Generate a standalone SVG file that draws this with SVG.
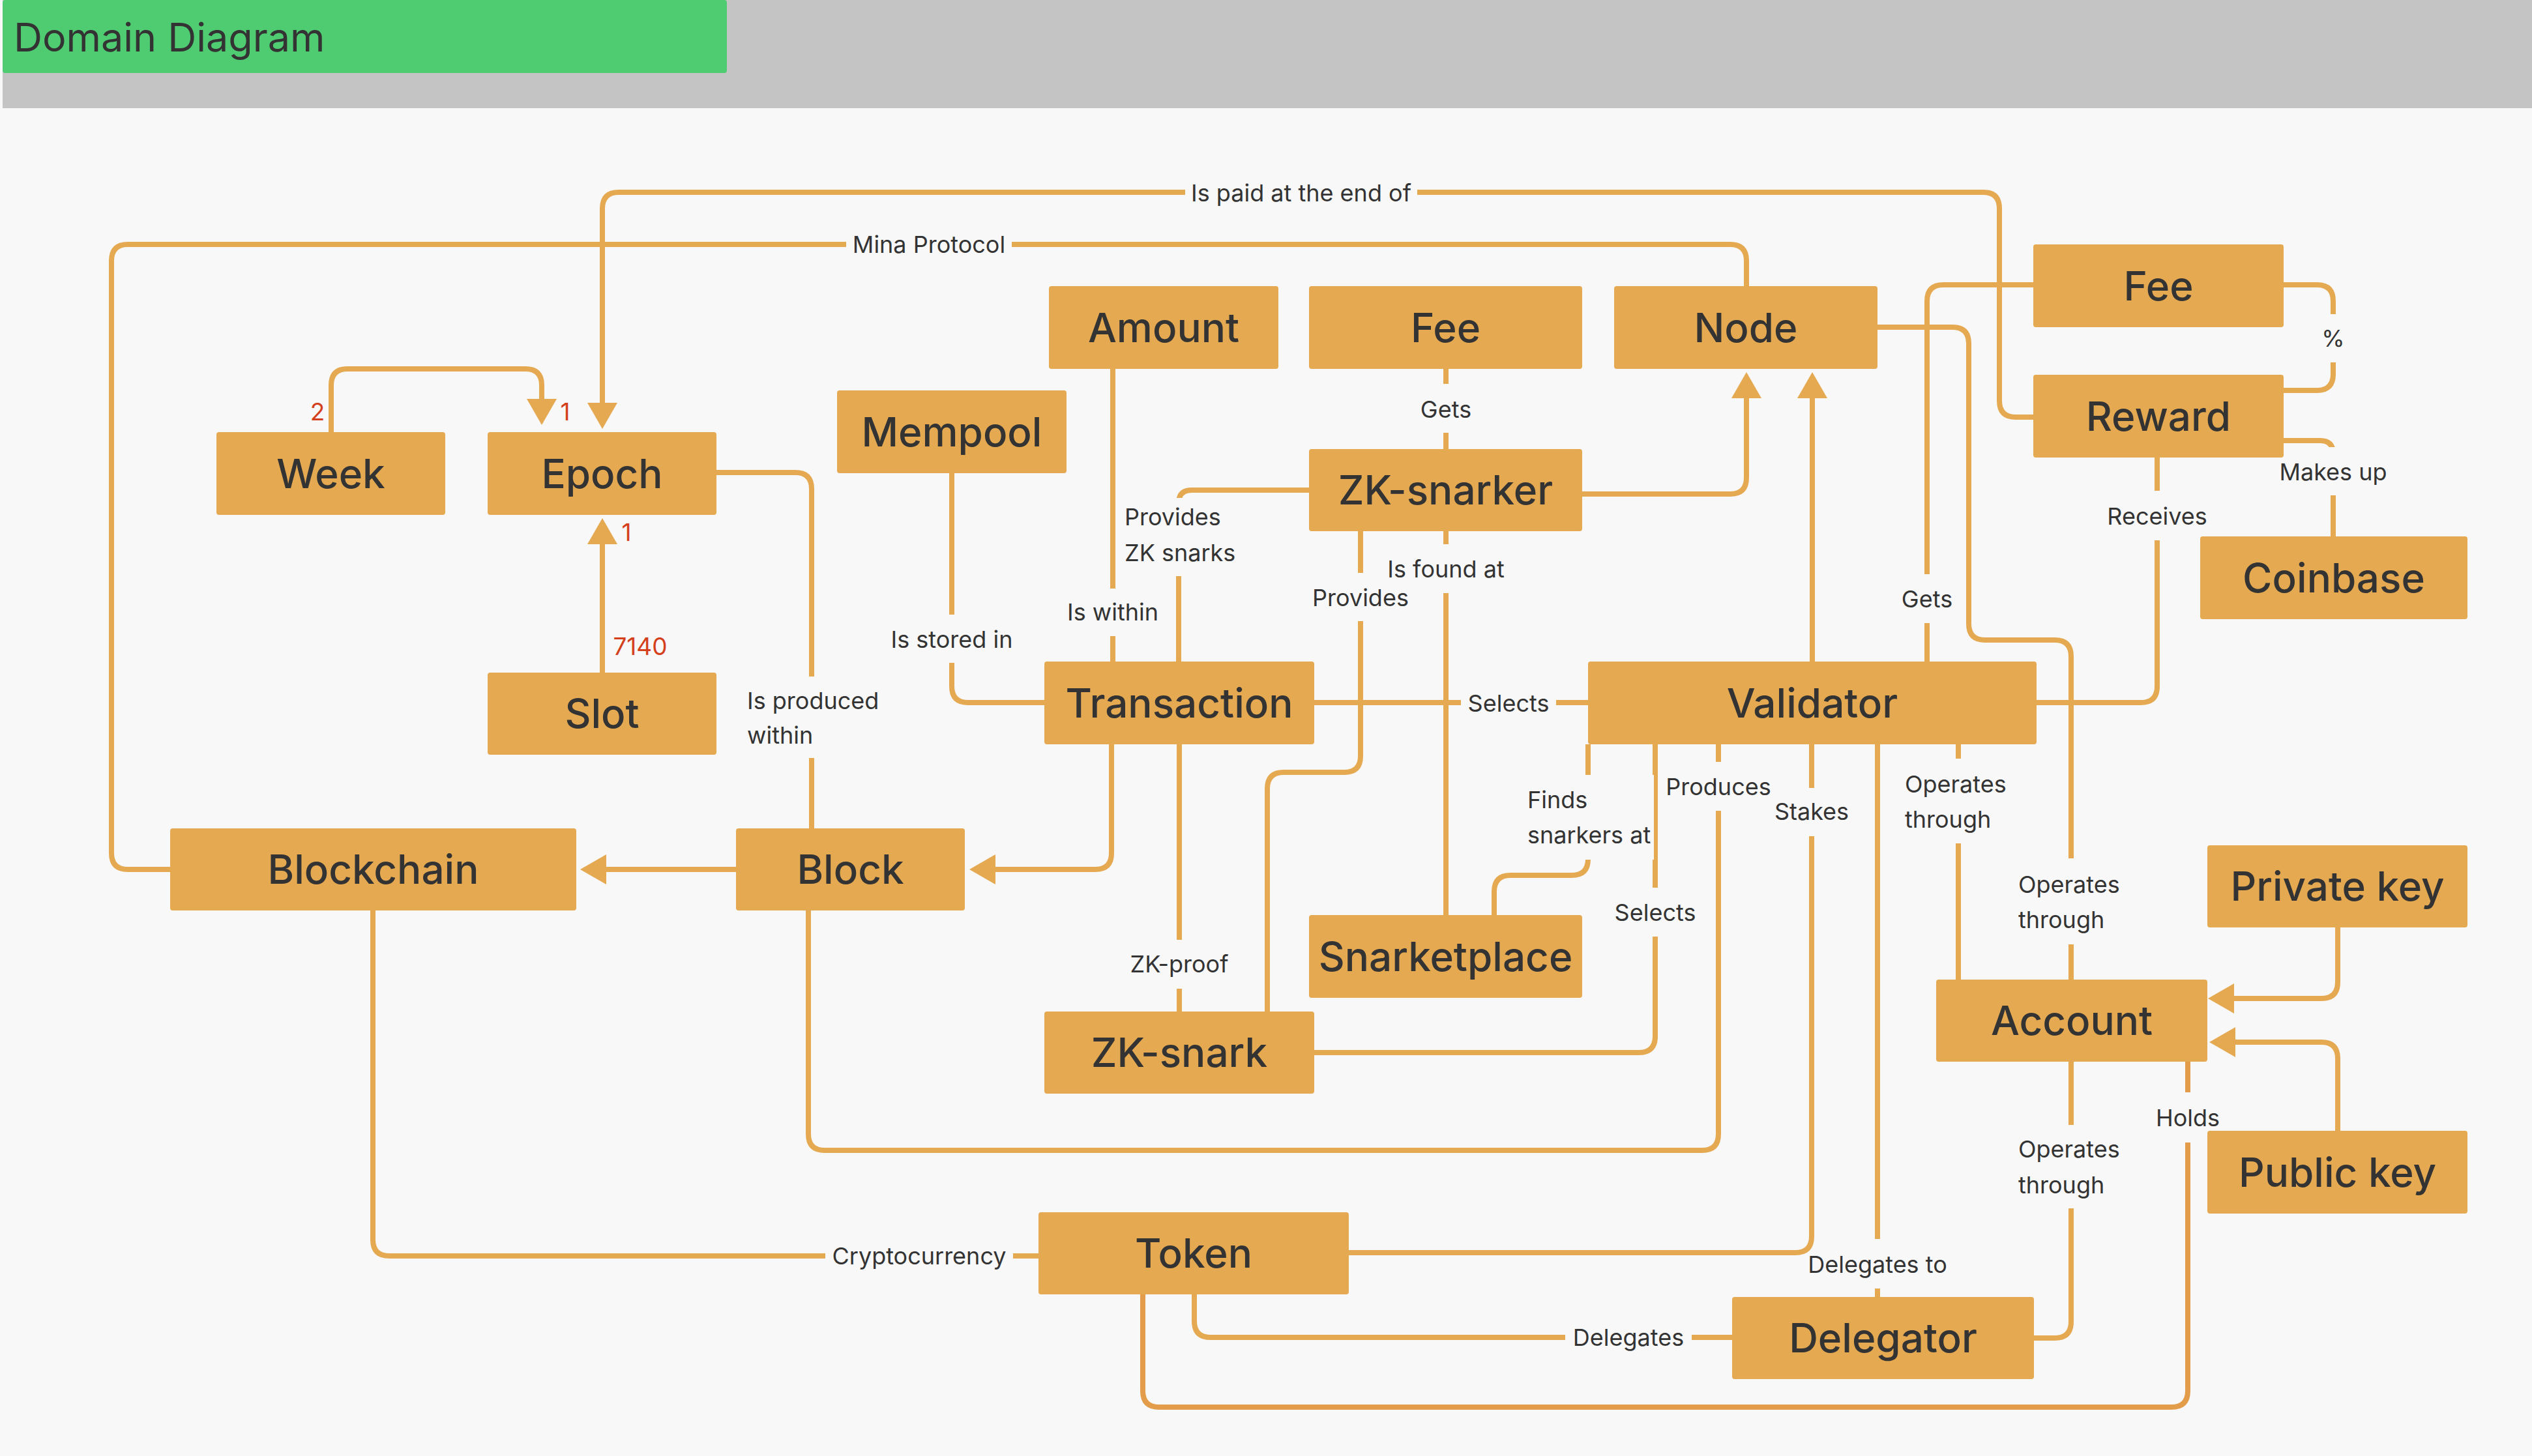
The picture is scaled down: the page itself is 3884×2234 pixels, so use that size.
<svg xmlns="http://www.w3.org/2000/svg" width="3884" height="2234" viewBox="0 0 3884 2234">
<style>
.node rect{fill:#E5A951;}
.node text{font-family:Inter,"Liberation Sans",sans-serif;font-size:62px;font-weight:500;fill:#333333;text-anchor:middle;}
.conn path{fill:none;stroke:#E5A951;stroke-width:8;}
.conn path.holds{stroke:#E39D4A;}
.lb{fill:#F8F8F8;}
.lt{font-family:Inter,"Liberation Sans",sans-serif;font-size:36px;fill:#333333;}
.c{text-anchor:middle;}
.red{font-family:Inter,"Liberation Sans",sans-serif;font-size:37px;fill:#D4401C;text-anchor:middle;}
</style>
<defs>
<marker id="arr" markerUnits="userSpaceOnUse" viewBox="0 0 40 46" markerWidth="40" markerHeight="46" refX="1" refY="23" orient="auto">
<path d="M0,0 L40,23 L0,46 Z" fill="#E5A951"/>
</marker>
</defs>
<rect x="0" y="0" width="3884" height="2234" fill="#F8F8F8"/>
<rect x="4" y="0" width="3880" height="166" fill="#C4C4C4"/>
<rect x="4" y="0" width="1111" height="112" rx="4" fill="#4FCC72"/>
<text x="21" y="79" font-family="Inter,'Liberation Sans',sans-serif" font-size="61" fill="#333333">Domain Diagram</text>

<g id="connectors" class="conn">
<path id="c-ispaid" d="M3119,640 H3092 Q3067,640 3067,615 V320 Q3067,295 3042,295 H949 Q924,295 924,320 V619" marker-end="url(#arr)"/>
<path id="c-mina" d="M2679,439 V400 Q2679,375 2654,375 H196 Q171,375 171,400 V1309 Q171,1334 196,1334 H261"/>
<path id="c-week-epoch" d="M508,663 V591 Q508,566 533,566 H806 Q831,566 831,591 V613" marker-end="url(#arr)"/>
<path id="c-slot-epoch" d="M924,1032 V834" marker-end="url(#arr)"/>
<path id="c-epoch-block" d="M1099,725 H1220 Q1245,725 1245,750 V1271"/>
<path id="c-block-blockchain" d="M1129,1334 H929" marker-end="url(#arr)"/>
<path id="c-tx-block" d="M1705,1142 V1309 Q1705,1334 1680,1334 H1526" marker-end="url(#arr)"/>
<path id="c-mempool-tx" d="M1460,726 V1053 Q1460,1078 1485,1078 H1602"/>
<path id="c-amount-tx" d="M1707,566 V1015"/>
<path id="c-snarker-tx" d="M2008,752 H1828 Q1808,752 1808,772 V1015"/>
<path id="c-fee-snarker" d="M2218,566 V689"/>
<path id="c-snarker-node" d="M2427,758 H2654 Q2679,758 2679,733 V610" marker-end="url(#arr)"/>
<path id="c-validator-node" d="M2780,1015 V610" marker-end="url(#arr)"/>
<path id="c-snarker-snarketplace" d="M2218,815 V1404"/>
<path id="c-snarker-zksnark" d="M2087,815 V1160 Q2087,1185 2062,1185 H1969 Q1944,1185 1944,1210 V1552"/>
<path id="c-tx-validator" d="M2016,1078 H2436"/>
<path id="c-tx-zksnark" d="M1809,1142 V1552"/>
<path id="c-validator-snarketplace" d="M2436,1142 V1318 Q2436,1343 2411,1343 H2317 Q2292,1343 2292,1368 V1404"/>
<path id="c-validator-zksnark" d="M2539,1142 V1590 Q2539,1615 2514,1615 H2016"/>
<path id="c-validator-block" d="M2636,1142 V1740 Q2636,1765 2611,1765 H1265 Q1240,1765 1240,1740 V1397"/>
<path id="c-validator-token" d="M2779,1142 V1897 Q2779,1922 2754,1922 H2069"/>
<path id="c-validator-delegator" d="M2880,1142 V1990"/>
<path id="c-validator-account" d="M3004,1142 V1503"/>
<path id="c-node-account" d="M2880,502 H2995 Q3020,502 3020,527 V957 Q3020,982 3045,982 H3152 Q3177,982 3177,1007 V1503"/>
<path id="c-fee-validator" d="M3119,437 H2981 Q2956,437 2956,462 V1015"/>
<path id="c-validator-reward" d="M3124,1078 H3284 Q3309,1078 3309,1053 V702"/>
<path id="c-fee-reward" d="M3503,437 H3554 Q3579,437 3579,462 V574 Q3579,599 3554,599 H3503"/>
<path id="c-reward-coinbase" d="M3503,676 H3559 Q3579,676 3579,696 V823"/>
<path id="c-private-account" d="M3586,1423 V1507 Q3586,1532 3561,1532 H3426" marker-end="url(#arr)"/>
<path id="c-public-account" d="M3586,1735 V1624 Q3586,1599 3561,1599 H3428" marker-end="url(#arr)"/>
<path id="c-account-delegator" d="M3177,1629 V2028 Q3177,2053 3152,2053 H3120"/>
<path id="c-account-token" class="holds" d="M3356,1629 V2134 Q3356,2159 3331,2159 H1778 Q1753,2159 1753,2134 V1986"/>
<path id="c-token-delegator" d="M1832,1986 V2027 Q1832,2052 1857,2052 H2657"/>
<path id="c-blockchain-token" d="M572,1397 V1902 Q572,1927 597,1927 H1593"/>
</g>

<g id="label-gaps">
<rect class="lb" x="1818" y="258" width="356" height="75"/>
<rect class="lb" x="1298" y="337" width="254" height="75"/>
<rect class="lb" x="1136" y="1038" width="217" height="125"/>
<rect class="lb" x="1355" y="943" width="210" height="74"/>
<rect class="lb" x="1633" y="903" width="148" height="73"/>
<rect class="lb" x="1717" y="764" width="182" height="120"/>
<rect class="lb" x="2175" y="589" width="86" height="75"/>
<rect class="lb" x="2124" y="835" width="188" height="75"/>
<rect class="lb" x="2009" y="879" width="156" height="74"/>
<rect class="lb" x="2241" y="1050" width="146" height="56"/>
<rect class="lb" x="1729" y="1442" width="160" height="75"/>
<rect class="lb" x="2335" y="1189" width="202" height="130"/>
<rect class="lb" x="2472" y="1362" width="134" height="75"/>
<rect class="lb" x="2552" y="1169" width="168" height="75"/>
<rect class="lb" x="2717" y="1209" width="124" height="74"/>
<rect class="lb" x="2792" y="1901" width="198" height="76"/>
<rect class="lb" x="2914" y="1164" width="180" height="130"/>
<rect class="lb" x="3088" y="1317" width="180" height="132"/>
<rect class="lb" x="2913" y="881" width="86" height="75"/>
<rect class="lb" x="3229" y="753" width="160" height="76"/>
<rect class="lb" x="3559" y="482" width="40" height="74"/>
<rect class="lb" x="3494" y="686" width="170" height="74"/>
<rect class="lb" x="3088" y="1726" width="180" height="128"/>
<rect class="lb" x="3304" y="1676" width="104" height="77"/>
<rect class="lb" x="2401" y="2020" width="194" height="64"/>
<rect class="lb" x="1266" y="1895" width="288" height="64"/>
</g>

<g id="labels">
<text class="lt c" x="1996" y="309">Is paid at the end of</text>
<text class="lt c" x="1425" y="388">Mina Protocol</text>
<text class="lt" x="1146" y="1088">Is produced</text><text class="lt" x="1146" y="1141">within</text>
<text class="lt c" x="1460" y="994">Is stored in</text>
<text class="lt c" x="1707" y="952">Is within</text>
<text class="lt" x="1725" y="806">Provides</text><text class="lt" x="1725" y="861">ZK snarks</text>
<text class="lt c" x="2218" y="641">Gets</text>
<text class="lt c" x="2218" y="886">Is found at</text>
<text class="lt c" x="2087" y="930">Provides</text>
<text class="lt c" x="2314" y="1092">Selects</text>
<text class="lt c" x="1809" y="1492">ZK-proof</text>
<text class="lt" x="2343" y="1240">Finds</text><text class="lt" x="2343" y="1294">snarkers at</text>
<text class="lt c" x="2539" y="1413">Selects</text>
<text class="lt c" x="2636" y="1220">Produces</text>
<text class="lt c" x="2779" y="1258">Stakes</text>
<text class="lt c" x="2880" y="1953">Delegates to</text>
<text class="lt" x="2922" y="1216">Operates</text><text class="lt" x="2922" y="1270">through</text>
<text class="lt" x="3096" y="1370">Operates</text><text class="lt" x="3096" y="1424">through</text>
<text class="lt c" x="2956" y="932">Gets</text>
<text class="lt c" x="3309" y="805">Receives</text>
<text class="lt c" x="3579" y="532">%</text>
<text class="lt c" x="3579" y="737">Makes up</text>
<text class="lt" x="3096" y="1776">Operates</text><text class="lt" x="3096" y="1831">through</text>
<text class="lt c" x="3356" y="1728">Holds</text>
<text class="lt c" x="2498" y="2065">Delegates</text>
<text class="lt c" x="1410" y="1940">Cryptocurrency</text>
<text class="red" x="487" y="645">2</text>
<text class="red" x="867" y="645">1</text>
<text class="red" x="961" y="830">1</text>
<text class="red" x="982" y="1005">7140</text>
</g>

<g id="n-week" class="node"><rect x="332" y="663" width="351" height="127" rx="4"/><text x="507.5" y="749">Week</text></g>
<g id="n-epoch" class="node"><rect x="748" y="663" width="351" height="127" rx="4"/><text x="923.5" y="749">Epoch</text></g>
<g id="n-slot" class="node"><rect x="748" y="1032" width="351" height="126" rx="4"/><text x="923.5" y="1117">Slot</text></g>
<g id="n-mempool" class="node"><rect x="1284" y="599" width="352" height="127" rx="4"/><text x="1460" y="685">Mempool</text></g>
<g id="n-amount" class="node"><rect x="1609" y="439" width="352" height="127" rx="4"/><text x="1785" y="525">Amount</text></g>
<g id="n-fee" class="node"><rect x="2008" y="439" width="419" height="127" rx="4"/><text x="2217.5" y="525">Fee</text></g>
<g id="n-node" class="node"><rect x="2476" y="439" width="404" height="127" rx="4"/><text x="2678" y="525">Node</text></g>
<g id="n-fee2" class="node"><rect x="3119" y="375" width="384" height="127" rx="4"/><text x="3311" y="461">Fee</text></g>
<g id="n-reward" class="node"><rect x="3119" y="575" width="384" height="127" rx="4"/><text x="3311" y="661">Reward</text></g>
<g id="n-coinbase" class="node"><rect x="3375" y="823" width="410" height="127" rx="4"/><text x="3580" y="909">Coinbase</text></g>
<g id="n-zksnarker" class="node"><rect x="2008" y="689" width="419" height="126" rx="4"/><text x="2217.5" y="774">ZK-snarker</text></g>
<g id="n-transaction" class="node"><rect x="1602" y="1015" width="414" height="127" rx="4"/><text x="1809" y="1101">Transaction</text></g>
<g id="n-validator" class="node"><rect x="2436" y="1015" width="688" height="127" rx="4"/><text x="2780" y="1101">Validator</text></g>
<g id="n-blockchain" class="node"><rect x="261" y="1271" width="623" height="126" rx="4"/><text x="572.5" y="1356">Blockchain</text></g>
<g id="n-block" class="node"><rect x="1129" y="1271" width="351" height="126" rx="4"/><text x="1304.5" y="1356">Block</text></g>
<g id="n-snarketplace" class="node"><rect x="2008" y="1404" width="419" height="127" rx="4"/><text x="2217.5" y="1490">Snarketplace</text></g>
<g id="n-zksnark" class="node"><rect x="1602" y="1552" width="414" height="126" rx="4"/><text x="1809" y="1637">ZK-snark</text></g>
<g id="n-account" class="node"><rect x="2970" y="1503" width="416" height="126" rx="4"/><text x="3178" y="1588">Account</text></g>
<g id="n-privatekey" class="node"><rect x="3386" y="1297" width="399" height="126" rx="4"/><text x="3585.5" y="1382">Private key</text></g>
<g id="n-publickey" class="node"><rect x="3386" y="1735" width="399" height="127" rx="4"/><text x="3585.5" y="1821">Public key</text></g>
<g id="n-token" class="node"><rect x="1593" y="1860" width="476" height="126" rx="4"/><text x="1831" y="1945">Token</text></g>
<g id="n-delegator" class="node"><rect x="2657" y="1990" width="463" height="126" rx="4"/><text x="2888.5" y="2075">Delegator</text></g>
</svg>
